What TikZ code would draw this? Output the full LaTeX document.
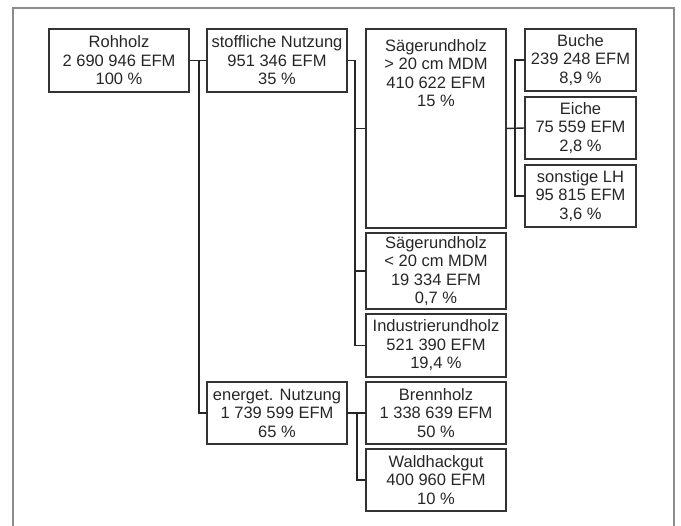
\documentclass[tikz,border=0pt]{standalone}
\usepackage{fontspec}
\setmainfont{Liberation Sans}
\usetikzlibrary{positioning}

\begin{document}
\begin{tikzpicture}[
    x=1pt, y=-1pt,
    font=\fontsize{16.5}{18.5}\selectfont,
    node distance=5pt and 18pt,
    box/.style={draw=black!80, text=black!85, line width=1.4pt, outer sep=0pt, minimum width=140pt, minimum height=62pt, align=center, inner sep=2pt},
    smallbox/.style={box, minimum width=111pt},
    link/.style={draw=black!85, line width=1.4pt},
    frame/.style={draw=black!45, line width=1.5pt}
]
    \useasboundingbox (0,0) rectangle (681,526);
    \draw[frame] (13,526) |- (674,8) -- (674,526);

    \node (roh) [box, anchor=north west, minimum height=63pt] at (49,29) {Rohholz\\ 2 690 946 EFM\\ 100 \%};
    \node (stoff) [box, right=of roh, minimum height=63pt] {stoffliche Nutzung\\ 951 346 EFM\\ 35 \%};

    \node (sgr1) [box, right=19pt of stoff.north east, anchor=north west, minimum height=199pt, text depth=111pt] {Sägerundholz\\ > 20 cm MDM\\ 410 622 EFM\\ 15 \%};
    \node (sgr2) [box, below=of sgr1, minimum height=76pt] {Sägerundholz\\ < 20 cm MDM\\ 19 334 EFM\\ 0,7 \%};
    \node (ind) [box, below=of sgr2, minimum height=63pt] {Industrierundholz\\ 521 390 EFM\\ 19,4 \%};
    \node (brenn) [box, below=of ind] {Brennholz\\ 1 338 639 EFM\\ 50 \%};
    \node (wald) [box, below=of brenn] {Waldhackgut\\ 400 960 EFM\\ 10 \%};
    \node (energ) [box, left=19pt of brenn] {energet. Nutzung\\ 1 739 599 EFM\\ 65 \%};

    \node (buche) [smallbox, right=19pt of sgr1.north east, anchor=north west] {Buche\\ 239 248 EFM\\ 8,9 \%};
    \node (eiche) [smallbox, below=6pt of buche] {Eiche\\ 75 559 EFM\\ 2,8 \%};
    \node (sonst) [smallbox, below=6pt of eiche] {sonstige LH\\ 95 815 EFM\\ 3,6 \%};

    % Rohholz
    \draw[link] (roh.east) -- (stoff.west);
    \draw[link] (roh.east) ++(10pt,0) |- (energ.west);
    % stoffliche Nutzung
    \draw[link] (stoff.east) -- ++(8pt,0) |- (ind.west);
    \draw[link] (sgr1.west) -- ++(-11pt,0);
    \draw[link] (sgr2.west) -- ++(-11pt,0);
    % Saegerundholz > 20 cm
    \draw[link] (sgr1.east) -- (eiche.west);
    \draw[link] (buche.west) -- ++(-10pt,0) |- (sonst.west);
    % energet. Nutzung
    \draw[link] (energ.east) -- (brenn.west);
    \draw[link] (brenn.west) -- ++(-9pt,0) |- (wald.west);
\end{tikzpicture}
\end{document}
